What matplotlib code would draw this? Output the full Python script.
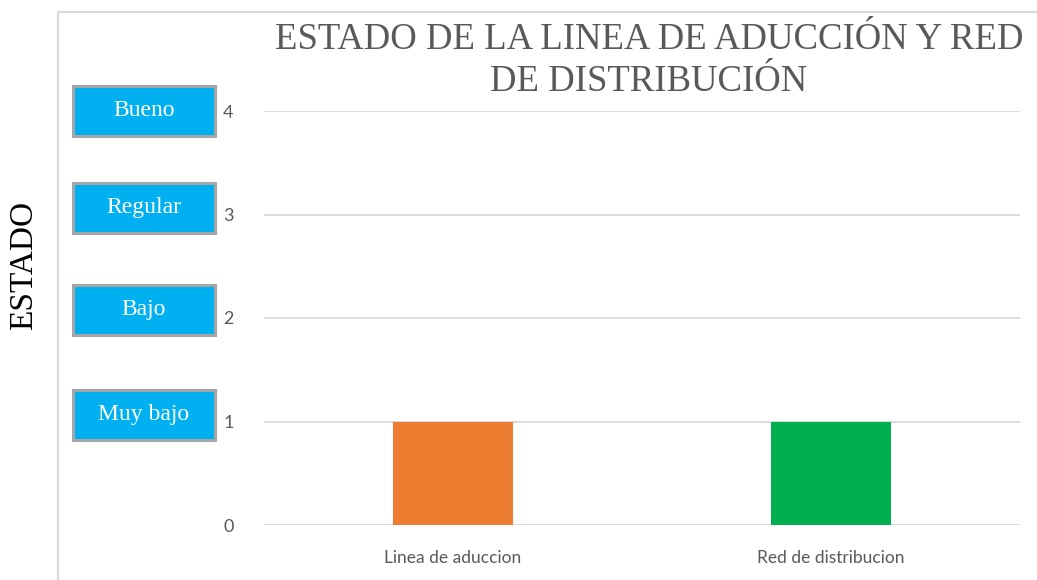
import matplotlib.pyplot as plt
from matplotlib.patches import Rectangle

categories = ["Linea de aduccion", "Red de distribucion"]
values = [1, 1]
bar_colors = ["#ED7D31", "#00B050"]
yticks = [0, 1, 2, 3, 4]
level_labels = ["Muy bajo", "Bajo", "Regular", "Bueno"]
title = "ESTADO DE LA LINEA DE ADUCCIÓN Y RED\nDE DISTRIBUCIÓN"
ylabel = "ESTADO"

W, H = 1037, 580
fig = plt.figure(figsize=(W / 100, H / 100), dpi=100)
ax = fig.add_axes([264 / W, 1 - 525 / H, 756 / W, (525 - 111) / H])

x = range(len(categories))
ax.bar(x, values, width=0.315, color=bar_colors, zorder=3)
ax.set_xlim(-0.5, 1.5)
ax.set_ylim(0, 4)
ax.set_yticks(yticks)
ax.set_xticks(list(x))
ax.set_xticklabels(categories, family="Lato", fontsize=12.5, color="#595959")
ax.set_yticklabels([str(t) for t in yticks], family="Lato", fontsize=13, color="#595959")
ax.tick_params(length=0)
ax.tick_params(axis="x", pad=18)
ax.tick_params(axis="y", pad=22)
ax.yaxis.grid(True, color="#d9d9d9", linewidth=1.3, zorder=0)
for s in ax.spines.values():
    s.set_visible(False)

# outer chart border (left and top visible)
fig.add_artist(plt.Line2D([57.5 / W, 57.5 / W], [0, 1 - 12 / H], color="#d9d9d9", lw=1.5))
fig.add_artist(plt.Line2D([57.5 / W, 1], [1 - 12 / H, 1 - 12 / H], color="#d9d9d9", lw=1.5))

fig.text(649 / W, 1 - 61 / H, title, ha="center", va="center", family="Liberation Serif",
         fontsize=26.5, color="#595959", linespacing=1.3)
fig.text(24 / W, 1 - 265 / H, ylabel, ha="center", va="center", rotation=90,
         family="Liberation Serif", fontsize=24, color="black")

# level boxes next to the y ticks
box_offsets = [7, 8, 7, 0]
for lvl, label in enumerate(level_labels, start=1):
    yc = (ax.transData.transform((0, lvl))[1] + box_offsets[lvl - 1]) / H
    bw, bh = 142 / W, 50 / H
    x0 = 73 / W
    fig.add_artist(Rectangle((x0, yc - bh / 2), bw, bh, transform=fig.transFigure,
                             facecolor="#00B0F0", edgecolor="#a6a6a6", lw=2.2))
    fig.text(x0 + bw / 2, yc, label, ha="center", va="center", family="Liberation Serif",
             fontsize=17, color="white")

fig.savefig("out.png", dpi=100)
